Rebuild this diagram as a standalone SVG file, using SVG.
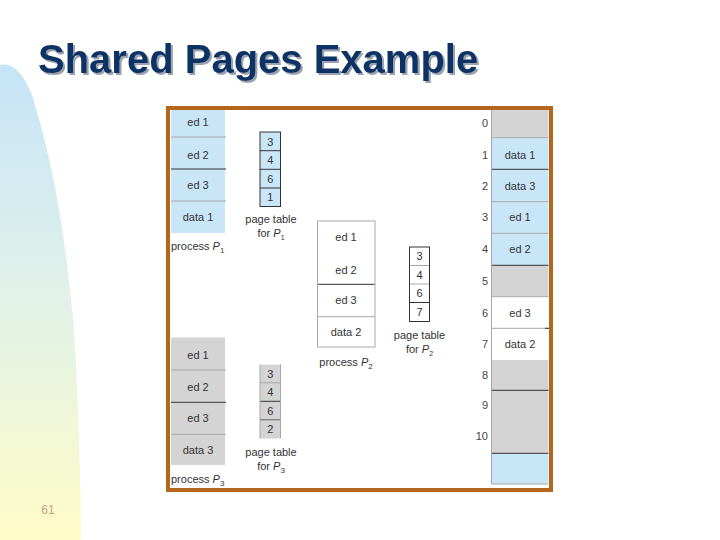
<svg xmlns="http://www.w3.org/2000/svg" width="720" height="540" viewBox="0 0 720 540">
<defs>
<linearGradient id="bg" x1="0" y1="0" x2="0" y2="1">
<stop offset="0" stop-color="#c6e4f8"/>
<stop offset="0.5" stop-color="#e2f2e8"/>
<stop offset="1" stop-color="#fffcc8"/>
</linearGradient>
<filter id="shadow" x="-5%" y="-20%" width="110%" height="150%">
<feOffset in="SourceAlpha" dx="2" dy="2" result="o"/>
<feFlood flood-color="#9aa4b0"/>
<feComposite in2="o" operator="in" result="s"/>
<feMerge><feMergeNode in="s"/><feMergeNode in="SourceGraphic"/></feMerge>
</filter>
</defs>
<style>
.t{font-family:"Liberation Sans",Arial,sans-serif;font-size:11px;fill:#333;text-anchor:middle}
.n{font-family:"Liberation Sans",Arial,sans-serif;font-size:11px;fill:#444;text-anchor:end}
.blue{fill:#c8e6f8}
.gray{fill:#d4d4d4}
.white{fill:#fff}
.lt{stroke:#a8a8a8;stroke-width:1}
.dk{stroke:#333;stroke-width:1}
.box{fill:none;stroke:#555;stroke-width:1}
.lbox{fill:none;stroke:#aaa;stroke-width:1}
</style>
<rect width="720" height="540" fill="#fff"/>
<path d="M0,65 Q18,60 32,95 Q62,190 74,330 Q80,420 81,540 L0,540 Z" fill="url(#bg)"/>
<g id="title">
<text x="38" y="73" font-family="Liberation Sans,Arial,sans-serif" font-size="40" font-weight="bold" fill="#0c3366" filter="url(#shadow)">Shared Pages Example</text>
</g>
<text x="48" y="514" font-family="Liberation Sans,Arial,sans-serif" font-size="12" fill="#c4a282" text-anchor="middle">61</text>

<rect id="frame" x="168" y="108" width="383" height="382" fill="#fff" stroke="#b5661d" stroke-width="4"/>

<g id="process-p1">
<rect class="blue" x="171" y="110" width="54" height="123"/>
<line class="lt" x1="171" y1="137" x2="226" y2="137"/>
<line class="dk" x1="171" y1="169" x2="226" y2="169"/>
<line class="lt" x1="171" y1="201" x2="226" y2="201"/>
<text class="t" x="198" y="126">ed 1</text>
<text class="t" x="198" y="159">ed 2</text>
<text class="t" x="198" y="189">ed 3</text>
<text class="t" x="198" y="221">data 1</text>
<text class="t" x="171" y="250" style="text-anchor:start">process <tspan font-style="italic">P</tspan><tspan font-size="8" dy="3">1</tspan></text>
</g>

<g id="pagetable-p1">
<rect class="blue" x="260" y="132" width="20.5" height="74.5"/>
<line class="dk" x1="260" y1="150.7" x2="280.5" y2="150.7"/>
<line class="dk" x1="260" y1="169.3" x2="280.5" y2="169.3"/>
<line class="dk" x1="260" y1="188" x2="280.5" y2="188"/>
<rect class="box" x="260" y="132" width="20.5" height="74.5" style="stroke:#333"/>
<text class="t" x="270.3" y="145.5">3</text>
<text class="t" x="270.3" y="164">4</text>
<text class="t" x="270.3" y="182.7">6</text>
<text class="t" x="270.3" y="201.3">1</text>
<text class="t" x="271" y="223">page table</text>
<text class="t" x="271" y="237">for <tspan font-style="italic">P</tspan><tspan font-size="7" dy="3">1</tspan></text>
</g>

<g id="process-p2">
<rect class="white" x="317.5" y="221" width="57.5" height="126"/>
<line class="dk" x1="317.5" y1="284.3" x2="375" y2="284.3"/>
<line class="lt" x1="317.5" y1="316.7" x2="375" y2="316.7"/>
<rect class="lbox" x="317.5" y="221" width="57.5" height="126"/>
<text class="t" x="346" y="241">ed 1</text>
<text class="t" x="346" y="274">ed 2</text>
<text class="t" x="346" y="304">ed 3</text>
<text class="t" x="346" y="336">data 2</text>
<text class="t" x="346" y="366">process <tspan font-style="italic">P</tspan><tspan font-size="8" dy="3">2</tspan></text>
</g>

<g id="pagetable-p2">
<rect class="white" x="409.5" y="247" width="20" height="74.5"/>
<line class="lt" x1="409.5" y1="265.5" x2="429.5" y2="265.5"/>
<line class="lt" x1="409.5" y1="284" x2="429.5" y2="284"/>
<line class="dk" x1="409.5" y1="302.5" x2="429.5" y2="302.5"/>
<rect class="box" x="409.5" y="247" width="20" height="74.5" style="stroke:#333"/>
<text class="t" x="419.5" y="260">3</text>
<text class="t" x="419.5" y="278.7">4</text>
<text class="t" x="419.5" y="297.3">6</text>
<text class="t" x="419.5" y="316">7</text>
<text class="t" x="419.5" y="339">page table</text>
<text class="t" x="419.5" y="353">for <tspan font-style="italic">P</tspan><tspan font-size="7" dy="3">2</tspan></text>
</g>

<g id="process-p3">
<rect class="gray" x="171" y="337.5" width="54" height="127.5"/>
<line class="lt" x1="171" y1="370" x2="226" y2="370"/>
<line class="dk" x1="171" y1="402.3" x2="226" y2="402.3"/>
<line class="lt" x1="171" y1="434.3" x2="226" y2="434.3"/>
<text class="t" x="198" y="359">ed 1</text>
<text class="t" x="198" y="391">ed 2</text>
<text class="t" x="198" y="422">ed 3</text>
<text class="t" x="198" y="454">data 3</text>
<text class="t" x="171" y="483" style="text-anchor:start">process <tspan font-style="italic">P</tspan><tspan font-size="8" dy="3">3</tspan></text>
</g>

<g id="pagetable-p3">
<rect class="gray" x="260" y="364.5" width="20.5" height="74"/>
<line class="lt" x1="260" y1="382.8" x2="280.5" y2="382.8"/>
<line class="dk" x1="260" y1="401.3" x2="280.5" y2="401.3"/>
<line class="dk" x1="260" y1="419.8" x2="280.5" y2="419.8" style="stroke:#666"/>
<line class="lt" x1="260" y1="364.5" x2="260" y2="438.5"/>
<line class="lt" x1="280.5" y1="364.5" x2="280.5" y2="438.5"/>
<text class="t" x="270.3" y="377.5">3</text>
<text class="t" x="270.3" y="396">4</text>
<text class="t" x="270.3" y="414.5">6</text>
<text class="t" x="270.3" y="433">2</text>
<text class="t" x="271" y="456">page table</text>
<text class="t" x="271" y="470">for <tspan font-style="italic">P</tspan><tspan font-size="8" dy="3">3</tspan></text>
</g>

<g id="physical-memory">
<rect class="gray" x="491.5" y="110" width="57" height="27.7"/>
<rect class="blue" x="491.5" y="137.7" width="57" height="127.6"/>
<rect class="gray" x="491.5" y="265.3" width="57" height="31.4"/>
<rect class="white" x="491.5" y="296.7" width="57" height="63.3"/>
<rect class="gray" x="491.5" y="360" width="57" height="93.3"/>
<rect class="blue" x="491.5" y="453.3" width="57" height="30.7"/>
<line class="lt" x1="491.5" y1="137.7" x2="548.5" y2="137.7"/>
<line class="dk" x1="491.5" y1="169.3" x2="548.5" y2="169.3"/>
<line class="lt" x1="491.5" y1="201.7" x2="548.5" y2="201.7"/>
<line class="lt" x1="491.5" y1="233.3" x2="548.5" y2="233.3"/>
<line class="dk" x1="491.5" y1="265.3" x2="548.5" y2="265.3"/>
<line class="lt" x1="491.5" y1="296.7" x2="548.5" y2="296.7"/>
<line class="lt" x1="491.5" y1="328.3" x2="548.5" y2="328.3"/>
<line class="dk" x1="545" y1="328.3" x2="549" y2="328.3"/>
<line class="dk" x1="491.5" y1="390.3" x2="548.5" y2="390.3"/>
<line class="dk" x1="491.5" y1="453.3" x2="548.5" y2="453.3"/>
<line class="lt" x1="491.5" y1="110" x2="491.5" y2="484"/>
<line class="lt" x1="491.5" y1="484" x2="548.5" y2="484"/>
<text class="t" x="520" y="158.7">data 1</text>
<text class="t" x="520" y="189.7">data 3</text>
<text class="t" x="520" y="221.3">ed 1</text>
<text class="t" x="520" y="253">ed 2</text>
<text class="t" x="520" y="316.7">ed 3</text>
<text class="t" x="520" y="347.7">data 2</text>
<text class="n" x="488" y="126.7">0</text>
<text class="n" x="488" y="158.7">1</text>
<text class="n" x="488" y="189.7">2</text>
<text class="n" x="488" y="221.3">3</text>
<text class="n" x="488" y="253">4</text>
<text class="n" x="488" y="284.7">5</text>
<text class="n" x="488" y="316.7">6</text>
<text class="n" x="488" y="347.7">7</text>
<text class="n" x="488" y="379">8</text>
<text class="n" x="488" y="409">9</text>
<text class="n" x="488" y="440">10</text>
</g>
</svg>
